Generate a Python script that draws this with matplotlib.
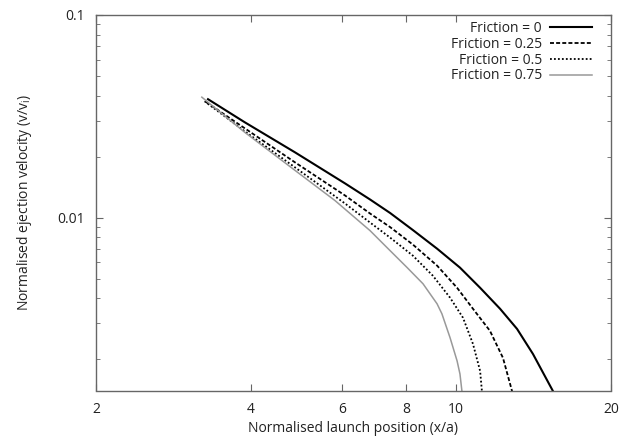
import matplotlib
matplotlib.use("Agg")
import matplotlib.pyplot as plt
from matplotlib.ticker import FixedLocator, NullFormatter, LogLocator, NullLocator

plt.rcParams['font.family'] = ['Open Sans', 'DejaVu Sans']

# Friction = 0
x0 = [3.30, 3.89, 4.87, 6.09, 6.81, 7.45, 8.25, 9.19, 10.18, 11.14, 12.18, 13.14, 14.11, 15.43]
y0 = [0.0384, 0.02953, 0.02098, 0.01474, 0.01228, 0.01053, 0.00867, 0.00702, 0.00566, 0.00450,
      0.003544, 0.00282, 0.00212, 0.00139]
# Friction = 0.25
x25 = [3.27, 3.89, 4.87, 6.09, 6.81, 7.45, 8.25, 9.19, 10.05, 10.79, 11.64, 12.34, 12.85]
y25 = [0.0372, 0.02758, 0.01872, 0.01285, 0.01047, 0.00897, 0.00735, 0.00579, 0.00450, 0.003544,
       0.00276, 0.002027, 0.00139]
# Friction = 0.5
x50 = [3.25, 3.89, 4.87, 6.09, 6.81, 7.45, 8.25, 9.02, 9.74, 10.32, 10.79, 11.14, 11.23]
y50 = [0.0375, 0.02665, 0.01768, 0.01173, 0.00945, 0.00796, 0.00648, 0.00516, 0.00402, 0.00320,
       0.002377, 0.001748, 0.00139]
# Friction = 0.75
x75 = [3.21, 3.89, 4.87, 5.82, 6.81, 7.35, 8.04, 8.63, 9.19, 9.39, 9.74, 10.05, 10.18, 10.27]
y75 = [0.0393, 0.02635, 0.01709, 0.01214, 0.00862, 0.00710, 0.00566, 0.00471, 0.00375, 0.00335,
       0.00255, 0.00196, 0.001689, 0.00139]

labels = ["Friction = 0", "Friction = 0.25", "Friction = 0.5", "Friction = 0.75"]
xticks = [2, 4, 6, 8, 10, 20]
xticklabels = ["2", "4", "6", "8", "10", "20"]
yticks = [0.01, 0.1]
yticklabels = ["0.01", "0.1"]

fig = plt.figure(figsize=(6.31, 4.41), dpi=100)
ax = fig.add_axes([96/631, 1-390.5/441, (611-96)/631, (390.5-15)/441])

ax.plot(x0, y0, color='black', lw=1.5, ls='-', label=labels[0])
ax.plot(x25, y25, color='black', lw=1.3, ls=(0, (2.2, 1.2)), label=labels[1])
ax.plot(x50, y50, color='black', lw=1.3, ls=(0, (1, 1.2)), label=labels[2])
ax.plot(x75, y75, color='0.6', lw=1.1, ls='-', label=labels[3])

ax.set_xscale('log')
ax.set_yscale('log')
ax.set_xlim(2, 20)
ax.set_ylim(0.0014, 0.1)

ax.xaxis.set_major_locator(FixedLocator(xticks))
ax.set_xticklabels(xticklabels)
ax.xaxis.set_minor_locator(NullLocator())
ax.yaxis.set_major_locator(FixedLocator(yticks))
ax.set_yticklabels(yticklabels)
ax.yaxis.set_minor_locator(LogLocator(base=10, subs=range(2, 10)))
ax.yaxis.set_minor_formatter(NullFormatter())

for s in ax.spines.values():
    s.set_color('0.4')
    s.set_linewidth(1.0)
ax.tick_params(which='both', direction='in', top=True, right=True, color='0.4', labelsize=10, labelcolor='#222222')
ax.tick_params(which='major', length=5, pad=8)
ax.tick_params(which='minor', length=3)

ax.set_xlabel("Normalised launch position (x/a)", fontsize=10, color='#222222', labelpad=3)
ax.set_ylabel(r"Normalised ejection velocity (v/v$_\mathregular{i}$)", fontsize=10, color='#222222', labelpad=17)

leg = ax.legend(loc='upper right', frameon=False, markerfirst=False, fontsize=10,
                handlelength=3.0, handletextpad=0.6, labelspacing=0.05,
                borderaxespad=0.3, bbox_to_anchor=(0.982, 1.009))
for t in leg.get_texts():
    t.set_ha('right')
    t.set_color('#222222')

fig.savefig("out.png", dpi=100)
